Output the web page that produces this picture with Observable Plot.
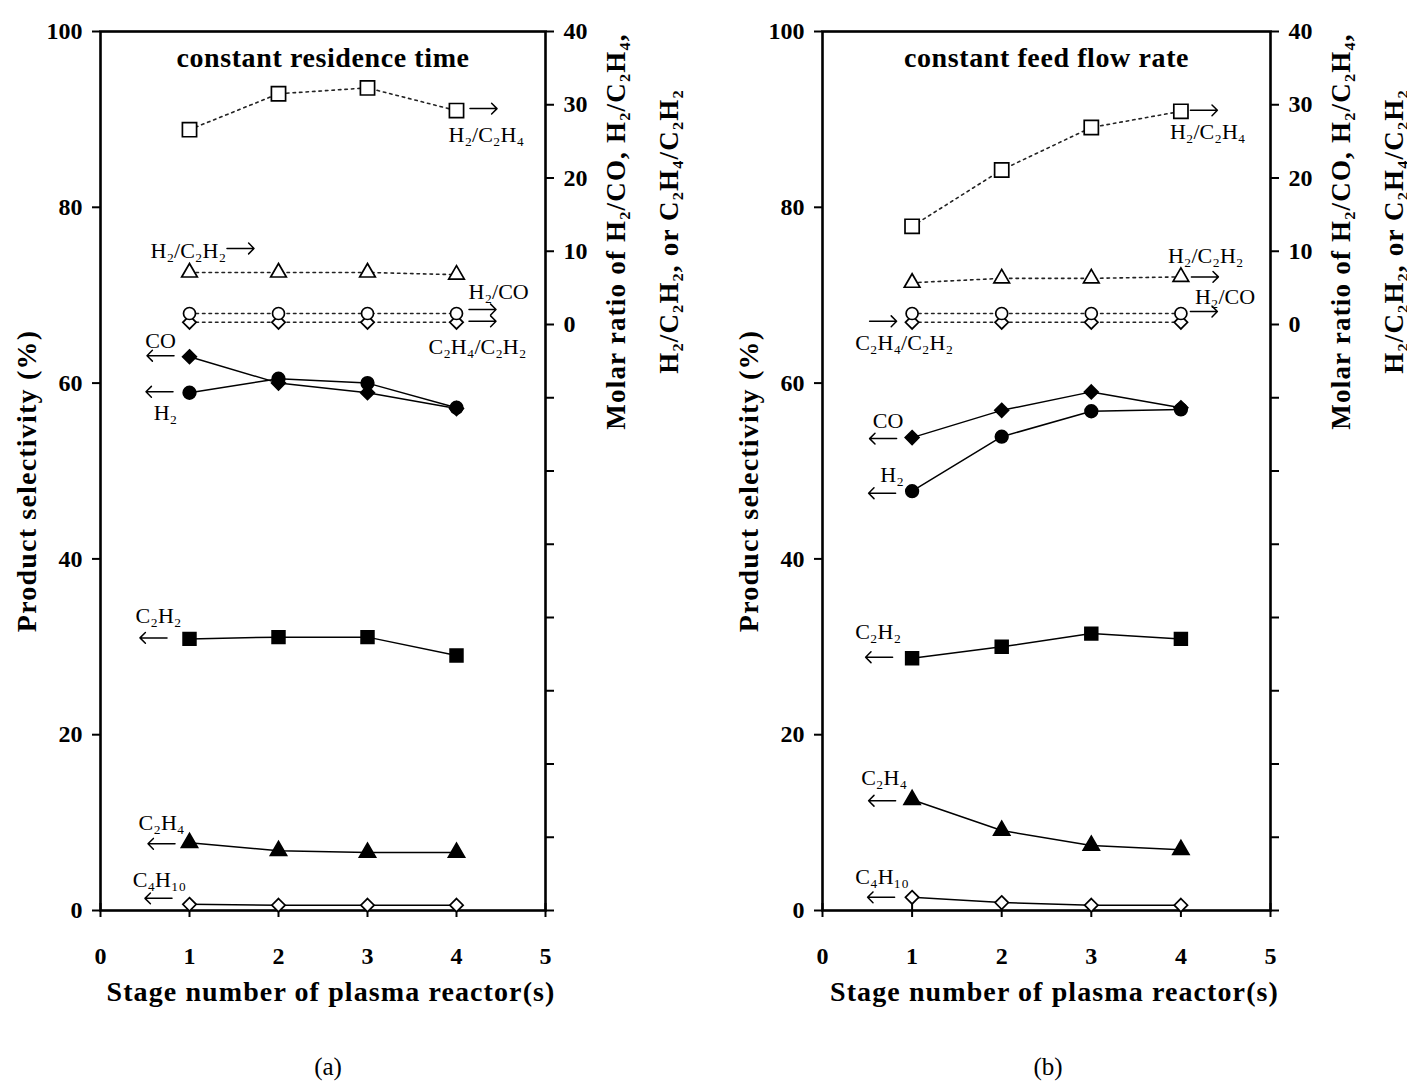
<!DOCTYPE html>
<html>
<head>
<meta charset="utf-8">
<script src="https://cdn.jsdelivr.net/npm/d3@7"></script>
<script src="https://cdn.jsdelivr.net/npm/@observablehq/plot@0.6"></script>
<style>
  body { margin: 0; background: #fff; }
  #wrap { position: relative; width: 1407px; height: 1082px; background: #fff;
          font-family: "Liberation Serif", "Times New Roman", serif; color: #000; }
  .panel { position: absolute; top: 0; }
  .cap { position: absolute; top: 1054px; width: 80px; text-align: center;
         font-size: 25px; line-height: 26px; }
</style>
</head>
<body>
<div id="wrap"></div>
<script>
// ---------- data ----------
const stages = [1, 2, 3, 4];
const xTicks = [0, 1, 2, 3, 4, 5];
const leftTicks = [0, 20, 40, 60, 80, 100];
const rightTicks = [-80, -70, -60, -50, -40, -30, -20, -10, 0, 10, 20, 30, 40];
const rightDomain = [-80, 40];

// (a) constant residence time : product selectivity (%)
const aCO = [63.0, 60.0, 58.9, 57.1];
const aH2 = [58.9, 60.5, 60.0, 57.2];
const aC2H2 = [30.9, 31.1, 31.1, 29.0];
const aC2H4 = [7.7, 6.8, 6.6, 6.6];
const aC4H10 = [0.7, 0.6, 0.6, 0.6];
// (a) molar ratios
const aH2C2H4 = [26.6, 31.5, 32.3, 29.2];
const aH2C2H2 = [7.1, 7.1, 7.1, 6.8];
const aH2CO = [1.5, 1.5, 1.5, 1.5];
const aC2H4C2H2 = [0.3, 0.3, 0.3, 0.3];

// (b) constant feed flow rate : product selectivity (%)
const bCO = [53.8, 56.9, 59.0, 57.2];
const bH2 = [47.7, 53.9, 56.8, 57.0];
const bC2H2 = [28.7, 30.0, 31.5, 30.9];
const bC2H4 = [12.6, 9.1, 7.4, 6.9];
const bC4H10 = [1.5, 0.9, 0.6, 0.6];
// (b) molar ratios
const bH2C2H4 = [13.4, 21.1, 26.9, 29.1];
const bH2C2H2 = [5.7, 6.3, 6.3, 6.5];
const bH2CO = [1.5, 1.5, 1.5, 1.5];
const bC2H4C2H2 = [0.3, 0.3, 0.3, 0.3];

const titles = ["constant residence time", "constant feed flow rate"];
const captions = ["(a)", "(b)"];
const xLabel = "Stage number of plasma reactor(s)";
const yLabel = "Product selectivity (%)";
const y2Label = "Molar ratio of H\u2082/CO, H\u2082/C\u2082H\u2084,\nH\u2082/C\u2082H\u2082, or C\u2082H\u2084/C\u2082H\u2082";
const names = {
  CO: "CO", H2: "H\u2082", C2H2: "C\u2082H\u2082", C2H4: "C\u2082H\u2084", C4H10: "C\u2084H\u2081\u2080",
  H2C2H4: "H\u2082/C\u2082H\u2084", H2C2H2: "H\u2082/C\u2082H\u2082", H2CO: "H\u2082/CO",
  C2H4C2H2: "C\u2082H\u2084/C\u2082H\u2082"
};

// ---------- helpers ----------
const toL = r => (r - rightDomain[0]) / (rightDomain[1] - rightDomain[0]) * 100;
const fmtR = v => { const r = Math.round(v / 100 * (rightDomain[1] - rightDomain[0]) + rightDomain[0]); return r >= 0 ? String(r) : ""; };
const rows = (arr, ratio) => stages.map((s, i) => ({stage: s, y: ratio ? toL(arr[i]) : arr[i]}));
const FONT = '"Liberation Serif", "Times New Roman", serif';

function note(r, i, text, dx, dy, anchor = "middle") {
  return Plot.text([r[i]], {x: "stage", y: "y", text: () => text, dx, dy,
    textAnchor: anchor, fontSize: 22, fill: "#000"});
}
// arrow pointing right (dir = 1) or left (dir = -1), centred at offset from a data point
function arrow(r, i, dir, dx, dy) {
  return Plot.vector([r[i]], {x: "stage", y: "y", length: 27, rotate: dir > 0 ? 90 : -90,
    shape: "arrow", anchor: "middle", dx, dy, stroke: "#000", strokeWidth: 1.5});
}

function panel(S, idx, geom, notes) {
  const R = {};
  const ratioKeys = ["H2C2H4", "H2C2H2", "H2CO", "C2H4C2H2"];
  for (const k of Object.keys(S)) R[k] = rows(S[k], ratioKeys.includes(k));

  const dotted = k => Plot.line(R[k], {x: "stage", y: "y", stroke: "#222", strokeWidth: 1.6, strokeDasharray: "2.5,4"});
  const solid = k => Plot.line(R[k], {x: "stage", y: "y", stroke: "#000", strokeWidth: 1.5});
  const dot = (k, symbol, r, fill) => Plot.dot(R[k], {x: "stage", y: "y", symbol, r, fill, stroke: "#000", strokeWidth: 1.7});

  return Plot.plot({
    width: geom.width, height: 1010,
    marginLeft: geom.ml, marginRight: geom.mr, marginTop: 31, marginBottom: 100,
    x: {domain: [0, 5]},
    y: {domain: [0, 100]},
    style: {fontFamily: FONT, fontSize: "22px", background: "#fff", color: "#000", overflow: "visible"},
    marks: [
      Plot.frame({stroke: "#000", strokeWidth: 2.6}),
      Plot.axisX({ticks: xTicks, tickSize: 14, dy: -7, fill: "none", strokeWidth: 2, label: null}),
      Plot.axisX({ticks: xTicks, tickFormat: d3.format("d"), tickSize: 0, tickPadding: 36,
        fontWeight: "bold", fontSize: 24, label: null}),
      Plot.axisY({ticks: leftTicks, tickFormat: d3.format("d"), tickSize: 8, tickPadding: 10, strokeWidth: 2,
        fontWeight: "bold", fontSize: 24, label: null}),
      Plot.axisY({anchor: "right", ticks: rightTicks.map(toL), tickFormat: fmtR, tickSize: 8, tickPadding: 10,
        strokeWidth: 2, fontWeight: "bold", fontSize: 24, label: null}),
      // ratio series (right axis)
      ...ratioKeys.map(dotted),
      // product selectivity (left axis)
      ...["CO", "H2", "C2H2", "C2H4", "C4H10"].map(solid),
      dot("H2C2H4", "square", 8, "#fff"),
      dot("H2C2H2", "triangle", 5.8, "#fff"),
      dot("C2H4C2H2", "diamond2", 6, "#fff"),
      dot("H2CO", "circle", 6, "#fff"),
      dot("CO", "diamond2", 6.2, "#000"),
      dot("H2", "circle", 6.3, "#000"),
      dot("C2H2", "square", 7.2, "#000"),
      dot("C2H4", "triangle", 6, "#000"),
      dot("C4H10", "diamond2", 6, "#fff"),
      // annotations
      ...notes(R),
      // titles / labels
      Plot.text([titles[idx]], {frameAnchor: "top", lineAnchor: "top", textAnchor: "middle",
        dy: 16, text: d => d, fontWeight: "bold", fontSize: 28}),
      Plot.text([xLabel], {frameAnchor: "bottom", lineAnchor: "top", textAnchor: "middle",
        dy: 71, dx: 8, text: d => d, fontWeight: "bold", fontSize: 28}),
      Plot.text([yLabel], {frameAnchor: "left", textAnchor: "middle", lineAnchor: "middle",
        rotate: -90, dx: -73, dy: 10, text: d => d, fontWeight: "bold", fontSize: 28}),
      Plot.text([y2Label], {frameAnchor: "top-right", textAnchor: "middle", lineAnchor: "middle",
        rotate: -90, dx: 89, dy: 200, text: d => d, lineHeight: 1.95, fontWeight: "bold", fontSize: 27})
    ]
  });
}

const notesA = R => [
  note(R.H2C2H4, 3, names.H2C2H4, -8, 24, "start"),
  arrow(R.H2C2H4, 3, 1, 27, -2),
  note(R.H2C2H2, 0, names.H2C2H2, -39, -22, "start"),
  arrow(R.H2C2H2, 0, 1, 51, -24),
  note(R.H2CO, 3, names.H2CO, 12, -22, "start"),
  arrow(R.H2CO, 3, 1, 26, -4),
  arrow(R.C2H4C2H2, 3, 1, 26, -1),
  note(R.C2H4C2H2, 3, names.C2H4C2H2, -28, 25, "start"),
  note(R.CO, 0, names.CO, -29, -16),
  arrow(R.CO, 0, -1, -29, -1),
  note(R.H2, 0, names.H2, -24, 20),
  arrow(R.H2, 0, -1, -30, -1),
  note(R.C2H2, 0, names.C2H2, -31, -23),
  arrow(R.C2H2, 0, -1, -36, -1),
  note(R.C2H4, 0, names.C2H4, -28, -20),
  arrow(R.C2H4, 0, -1, -28, 1),
  note(R.C4H10, 0, names.C4H10, -30, -24),
  arrow(R.C4H10, 0, -1, -31, -6)
];

const notesB = R => [
  note(R.H2C2H4, 3, names.H2C2H4, -11, 21, "start"),
  arrow(R.H2C2H4, 3, 1, 23, -1),
  note(R.H2C2H2, 3, names.H2C2H2, -13, -21, "start"),
  arrow(R.H2C2H2, 3, 1, 24, 0),
  note(R.H2CO, 3, names.H2CO, 14, -17, "start"),
  arrow(R.H2CO, 3, 1, 23, -2),
  arrow(R.C2H4C2H2, 0, 1, -29, -1),
  note(R.C2H4C2H2, 0, names.C2H4C2H2, -8, 21),
  note(R.CO, 0, names.CO, -24, -17),
  arrow(R.CO, 0, -1, -29, 1),
  note(R.H2, 0, names.H2, -20, -16),
  arrow(R.H2, 0, -1, -30, 2),
  note(R.C2H2, 0, names.C2H2, -34, -26),
  arrow(R.C2H2, 0, -1, -33, -1),
  note(R.C2H4, 0, names.C2H4, -28, -22),
  arrow(R.C2H4, 0, -1, -30, 1),
  note(R.C4H10, 0, names.C4H10, -30, -20),
  arrow(R.C4H10, 0, -1, -31, 0)
];

const SA = {CO: aCO, H2: aH2, C2H2: aC2H2, C2H4: aC2H4, C4H10: aC4H10,
            H2C2H4: aH2C2H4, H2C2H2: aH2C2H2, H2CO: aH2CO, C2H4C2H2: aC2H4C2H2};
const SB = {CO: bCO, H2: bH2, C2H2: bC2H2, C2H4: bC2H4, C4H10: bC4H10,
            H2C2H4: bH2C2H4, H2C2H2: bH2C2H2, H2CO: bH2CO, C2H4C2H2: bC2H4C2H2};

// letter spacing for the wide-set labels of the original
function spaceOut(svg) {
  const spacing = new Map([[xLabel, "1.1px"], [yLabel, "1.2px"], [titles[0], "0.6px"], [titles[1], "0.6px"]]);
  d3.select(svg).selectAll("text").each(function () {
    const t = this.textContent;
    if (spacing.has(t)) this.style.letterSpacing = spacing.get(t);
    else if (t.startsWith("Molar") || t.startsWith("H\u2082/C\u2082H\u2082, or")) this.style.letterSpacing = "1.2px";
  });
  d3.select(svg).selectAll("tspan").each(function () {
    const t = this.textContent;
    if (t.startsWith("Molar") || t.startsWith("H\u2082/C\u2082H\u2082, or")) this.style.letterSpacing = "1.2px";
  });
}

const wrap = document.getElementById("wrap");
const pa = panel(SA, 0, {width: 703, ml: 100, mr: 158}, notesA);
pa.classList.add("panel"); pa.style.left = "0px";
const pb = panel(SB, 1, {width: 704, ml: 119, mr: 137}, notesB);
pb.classList.add("panel"); pb.style.left = "703px";
spaceOut(pa); spaceOut(pb);
wrap.appendChild(pa); wrap.appendChild(pb);

[[captions[0], 288], [captions[1], 1008]].forEach(([t, left]) => {
  const d = document.createElement("div");
  d.className = "cap"; d.textContent = t; d.style.left = left + "px";
  wrap.appendChild(d);
});
</script>
</body>
</html>
